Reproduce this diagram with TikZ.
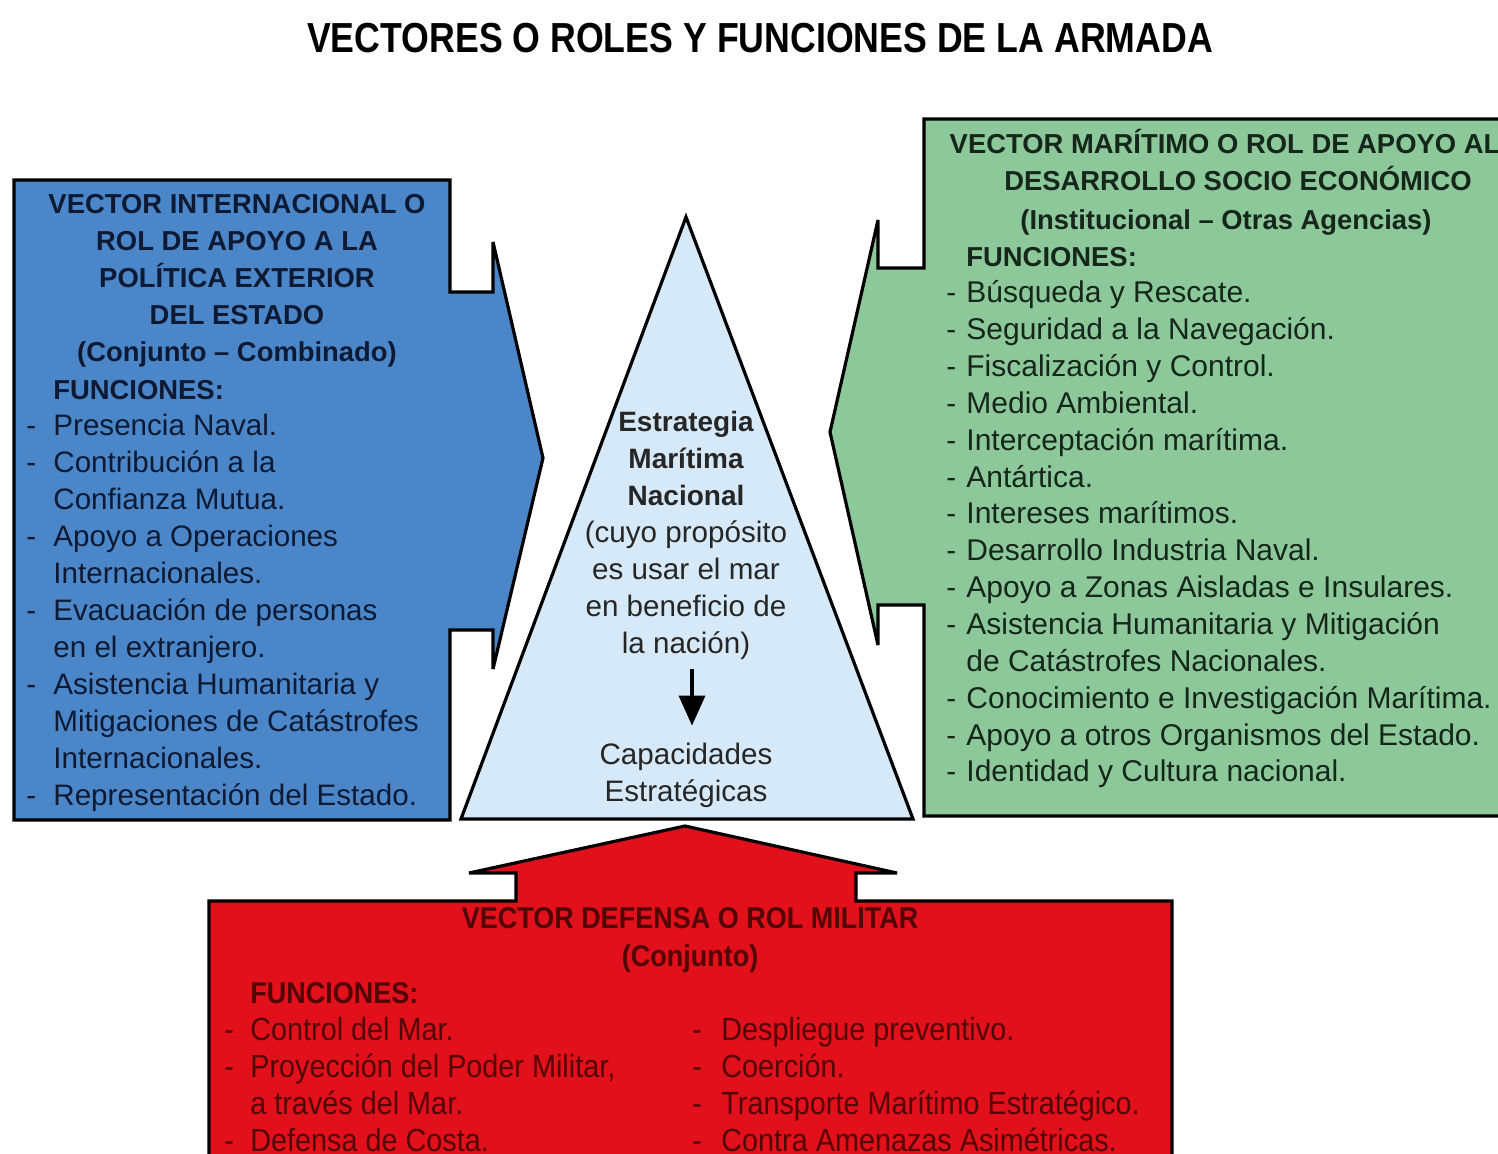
\documentclass[tikz,border=0pt]{standalone}
\usepackage{fontspec}
\setmainfont{Liberation Sans}
\newfontfamily\condfont[FakeStretch=0.85]{Liberation Sans}
\newfontfamily\redfont[FakeStretch=0.9]{Liberation Sans}
\usetikzlibrary{positioning,arrows.meta}

\definecolor{vecblue}{HTML}{4A86C8}
\definecolor{vecgreen}{HTML}{8CC89A}
\definecolor{vecred}{HTML}{E2101A}
\definecolor{pyrblue}{HTML}{D6E9F8}
\definecolor{navytxt}{HTML}{0E1A33}
\definecolor{greentxt}{HTML}{15261A}
\definecolor{redtxt}{HTML}{520606}

\tikzset{
  txtline/.style={anchor=west, inner sep=0pt, text height=12pt, text depth=2pt, font=\fontsize{14.8}{18}\selectfont},
  headline/.style={txtline, anchor=center, font=\fontsize{13.7}{17}\selectfont\bfseries},
  redline/.style={txtline, font=\redfont\fontsize{16}{18}\selectfont},
  vshape/.style={draw=black, line width=1.6pt, line join=miter, miter limit=3},
}

\begin{document}
\begin{tikzpicture}[x=0.5pt, y=-0.5pt]
    \useasboundingbox (0,0) rectangle (1498,1153);
    \clip (0,0) rectangle (1498,1153);

    % Title
    \node[font=\condfont\bfseries\fontsize{21}{24}\selectfont, inner sep=0pt] (title) at (760,38) {VECTORES O ROLES Y FUNCIONES DE LA ARMADA};

    % Pyramid
    \draw[vshape, fill=pyrblue] (686,217) -- (913,819) -- (461,819) -- cycle;
    \foreach \t [count=\i] in {Estrategia, Marítima, Nacional}
        \node[headline, font=\fontsize{14}{17}\selectfont\bfseries, text=black!85] (P\i) at (686,384+37*\i) {\t};
    \foreach \t [count=\i from 4] in {{(cuyo propósito}, es usar el mar, en beneficio de, la nación)}
        \node[txtline, anchor=center, text=black!85] (P\i) at (686,384+37*\i) {\t};
    \node[txtline, anchor=center, text=black!85] (cap1) at (686,754) {Capacidades};
    \node[txtline, anchor=center, text=black!85] (cap2) at (686,791) {Estratégicas};
    \draw[-{Triangle[width=13pt,length=15pt]}, line width=1.6pt, shorten <=6pt, shorten >=7pt]
        ([xshift=3pt]P7.south) -- ([xshift=3pt]cap1.north);

    % Left vector
    \draw[vshape, fill=vecblue] (14,180) -- (450,180) -- (450,292) -- (493,292) -- (493,242) -- (543,458)
        -- (493,669) -- (493,630) -- (450,630) -- (450,820) -- (14,820) -- cycle;
    \foreach \t [count=\i] in {VECTOR INTERNACIONAL O, ROL DE APOYO A LA, POLÍTICA EXTERIOR, DEL ESTADO, {(Conjunto – Combinado)}}
        \node[headline, text=navytxt] (LH\i) at (237,166+37*\i) {\t};
    \node[headline, anchor=west, text=navytxt] (LF) at (53,389) {FUNCIONES:};
    \foreach \t [count=\i] in {Presencia Naval., Contribución a la, Confianza Mutua., Apoyo a Operaciones,
        Internacionales., Evacuación de personas, en el extranjero., Asistencia Humanitaria y,
        Mitigaciones de Catástrofes, Internacionales., Representación del Estado.}
        \node[txtline, text=navytxt] (LI\i) at (53,388+37*\i) {\t};
    \foreach \i in {1,2,4,6,8,11}
        \node[txtline, text=navytxt] (LD\i) at (26,388+37*\i) {-};

    % Right vector
    \draw[vshape, fill=vecgreen] (1510,119) -- (924,119) -- (924,268) -- (878,268) -- (878,220) -- (830,432)
        -- (878,645) -- (878,605) -- (924,605) -- (924,816) -- (1510,816) -- cycle;
    \foreach \x/\y/\t [count=\i] in {1225/143/VECTOR MARÍTIMO O ROL DE APOYO AL, 1238/180/DESARROLLO SOCIO ECONÓMICO,
        1226/219/{(Institucional – Otras Agencias)}}
        \node[headline, text=greentxt] (RH\i) at (\x,\y) {\t};
    \node[headline, anchor=west, text=greentxt] (RF) at (966,256) {FUNCIONES:};
    \foreach \t [count=\i] in {Búsqueda y Rescate., Seguridad a la Navegación., Fiscalización y Control.,
        Medio Ambiental., Interceptación marítima., Antártica., Intereses marítimos.,
        Desarrollo Industria Naval., Apoyo a Zonas Aisladas e Insulares., Asistencia Humanitaria y Mitigación,
        de Catástrofes Nacionales., Conocimiento e Investigación Marítima., Apoyo a otros Organismos del Estado.,
        Identidad y Cultura nacional.}
        \node[txtline, font=\fontsize{15}{18}\selectfont, text=greentxt] (RI\i) at (966,256+36.85*\i) {\t};
    \foreach \i in {1,...,10,12,13,14}
        \node[txtline, text=greentxt] (RD\i) at (946,256+36.85*\i) {-};

    % Bottom vector
    \draw[vshape, fill=vecred] (209,1170) -- (209,901) -- (516,901) -- (516,873) -- (469,873) -- (685,826)
        -- (897,873) -- (856,873) -- (856,901) -- (1172,901) -- (1172,1170) -- cycle;
    \node[headline, font=\redfont\bfseries\fontsize{15}{18}\selectfont, text=redtxt] (MH1) at (690,918) {VECTOR DEFENSA O ROL MILITAR};
    \node[headline, font=\redfont\bfseries\fontsize{15}{18}\selectfont, text=redtxt] (MH2) at (690,956) {(Conjunto)};
    \node[headline, anchor=west, font=\redfont\bfseries\fontsize{15}{18}\selectfont, text=redtxt] (MF) at (250,993) {FUNCIONES:};
    \foreach \t [count=\i] in {Control del Mar., {Proyección del Poder Militar,}, a través del Mar., Defensa de Costa.}
        \node[redline, text=redtxt] (ML\i) at (250,993+37*\i) {\t};
    \foreach \t [count=\i] in {Despliegue preventivo., Coerción., Transporte Marítimo Estratégico., Contra Amenazas Asimétricas.}
        \node[redline, text=redtxt] (MR\i) at (721,993+37*\i) {\t};
    \foreach \i in {1,2,4}
        \node[redline, text=redtxt] (MLD\i) at (224,993+37*\i) {-};
    \foreach \i in {1,...,4}
        \node[redline, text=redtxt] (MRD\i) at (692,993+37*\i) {-};
\end{tikzpicture}
\end{document}
